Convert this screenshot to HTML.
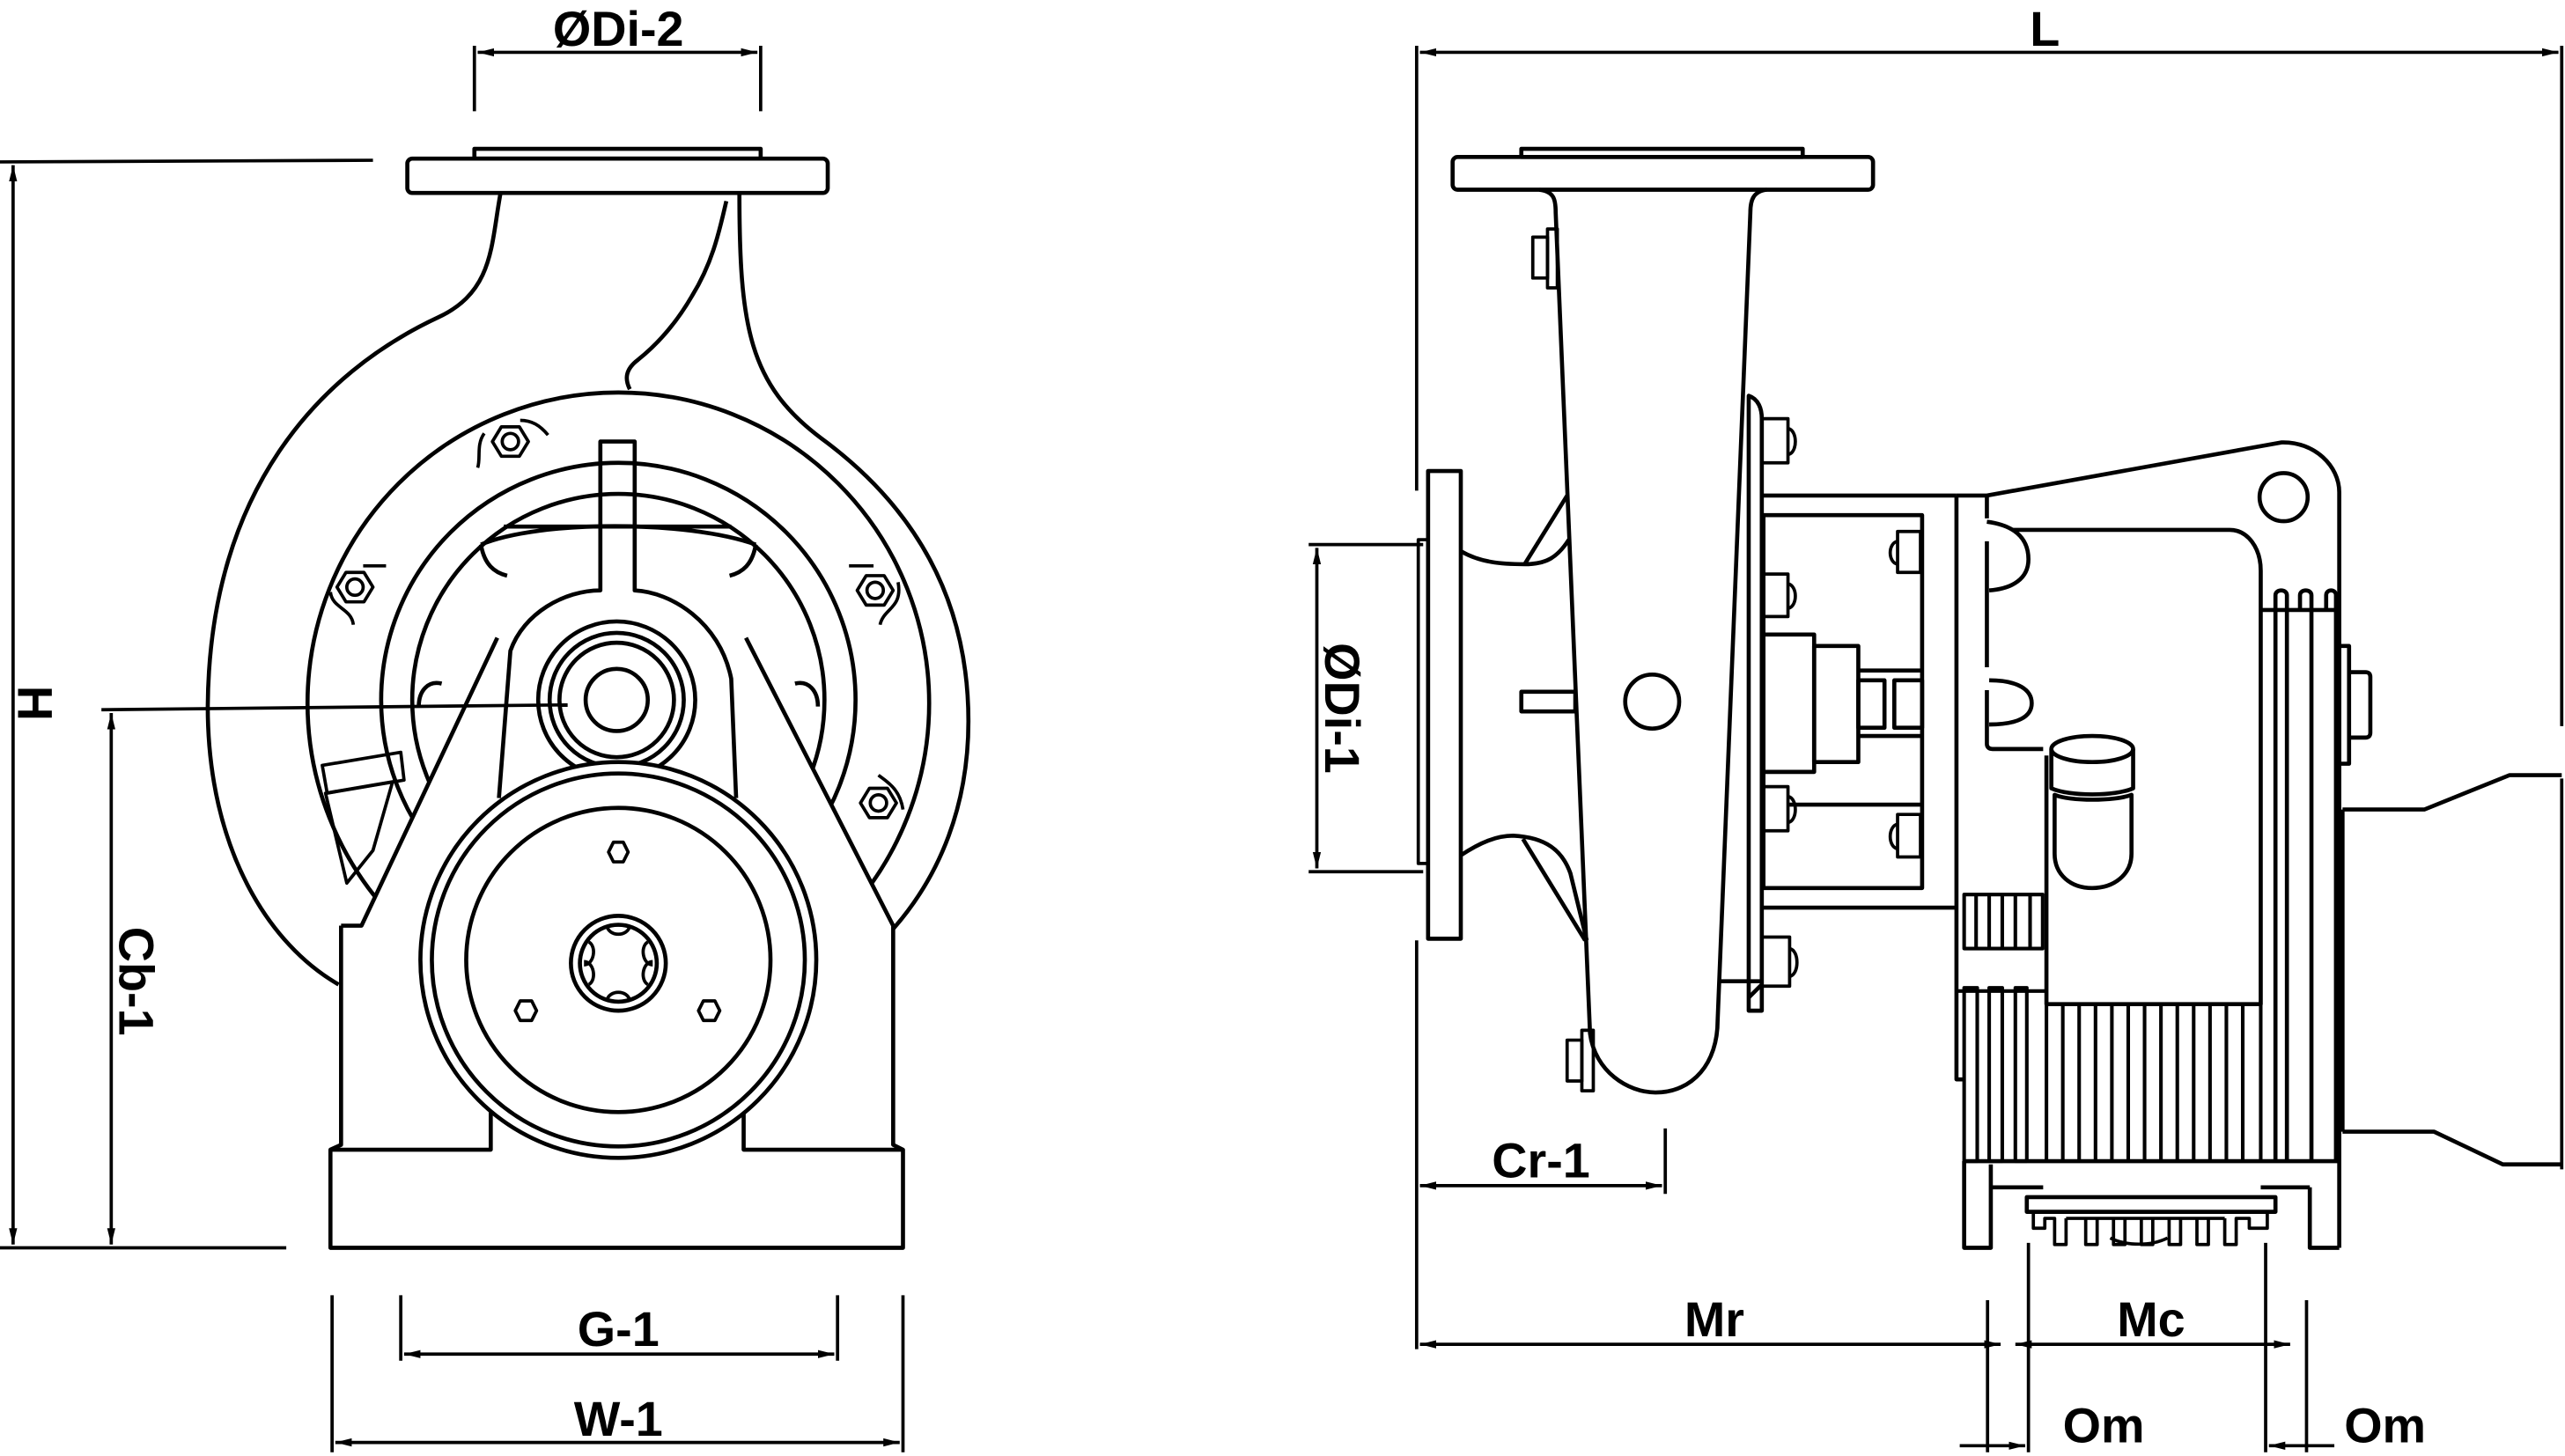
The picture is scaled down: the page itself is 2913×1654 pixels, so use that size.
<!DOCTYPE html>
<html><head><meta charset="utf-8"><style>
html,body{margin:0;padding:0;background:#fff;}
svg{display:block;}
text{font-family:"Liberation Sans",sans-serif;font-size:30px;font-weight:bold;fill:#000;}
</style></head><body>
<svg width="2913" height="1654" viewBox="0 0 1568 890.3" preserveAspectRatio="none" xmlns="http://www.w3.org/2000/svg">
<defs>
<marker id="a" viewBox="0 0 10 10" refX="10" refY="5" markerWidth="10" markerHeight="10" orient="auto-start-reverse" markerUnits="userSpaceOnUse"><path d="M0,2.5 L10,5 L0,7.5z" fill="#000"/></marker>
</defs>
<g fill="none" stroke="#000" stroke-width="2.5" stroke-linejoin="round">
<g stroke-width="2">
<line x1="290" y1="28" x2="290" y2="68"/>
<line x1="465" y1="28" x2="465" y2="68"/>
<line x1="292" y1="32" x2="463" y2="32" marker-start="url(#a)" marker-end="url(#a)"/>
<line x1="0" y1="99" x2="228" y2="98"/>
<line x1="0" y1="763" x2="175" y2="763"/>
<line x1="8" y1="101" x2="8" y2="761" marker-start="url(#a)" marker-end="url(#a)"/>
<line x1="203" y1="792" x2="203" y2="888"/>
<line x1="552" y1="792" x2="552" y2="888"/>
<line x1="245" y1="792" x2="245" y2="832"/>
<line x1="512" y1="792" x2="512" y2="832"/>
<line x1="247" y1="828" x2="510" y2="828" marker-start="url(#a)" marker-end="url(#a)"/>
<line x1="205" y1="882" x2="550" y2="882" marker-start="url(#a)" marker-end="url(#a)"/>
</g>
<rect x="249" y="97" width="257" height="21" rx="3"/>
<rect x="290" y="91" width="175" height="6"/>
<path d="M306,118 C300,150 302,178 268,194 C195,228 128,300 127,432 C127,520 165,578 207,602"/>
<path d="M452,118 C452,200 458,235 502,268 C562,312 592,370 592,441 C592,492 575,535 546,568"/>
<path d="M444,123 C440,140 436,160 423,181 C412,200 400,212 390,220 C382,226 382,232 385,238"/>
<circle cx="378" cy="430" r="190"/>
<circle cx="378" cy="428" r="145"/>
<circle cx="378" cy="428" r="126"/>
<path d="M308,322 L447,322"/>
<path d="M294,333 C296,345 302,350 310,352 M462,333 C460,345 454,350 446,352"/>
<path d="M294,333 C330,318 420,318 462,333"/>
<path d="M256,432 C256,422 262,416 270,418 M500,432 C500,422 494,416 486,418"/>
<g stroke-width="2">
<polygon points="301,270 306.5,261 317.5,261 323,270 317.5,279 306.5,279"/><circle cx="312" cy="270" r="5"/>
<path d="M296,265 C291,272 294,280 292,286 M318,257 C325,257 330,260 335,266"/>
<polygon points="206,359 211.5,350 222.5,350 228,359 222.5,368 211.5,368"/><circle cx="217" cy="359" r="5"/>
<path d="M202,362 C203,372 215,372 216,382 M222,346 L236,346"/>
<polygon points="524,361 529.5,352 540.5,352 546,361 540.5,370 529.5,370"/><circle cx="535" cy="361" r="5"/>
<path d="M519,346 L534,346 M549,356 C552,372 540,372 538,382"/>
<polygon points="526,491 531.5,482 542.5,482 548,491 542.5,500 531.5,500"/><circle cx="537" cy="491" r="5"/>
<path d="M537,474 C542,478 550,482 552,495"/>
</g>
<g stroke-width="2">
<polygon points="197,468 245,460 247,477 200,485"/>
<polygon points="199,485 240,478 228,520 212,540"/>
</g>
<path fill="#fff" stroke="none" d="M208.5,566 L221,566 L304,390 L456,390 L546,566 L546,700 L552,703 L552,763 L202,763 L202,703 L208.5,700 Z"/>
<path d="M208.5,566 L221,566 L304,390 M456,390 L546,566 M208.5,566 L208.5,700 L202,703 L202,763 L552,763 L552,703 L546,700 L546,566"/>
<path d="M202,703 L300,703 L300,679 M454.6,679 L454.6,703 L552,703"/>
<path d="M305,488 L312,398 C320,375 345,361 367,361 L367,270 L388,270 L388,361 C410,362 440,380 447,415 L450,488"/>
<line x1="62" y1="434" x2="347" y2="431" stroke-width="2"/>
<line x1="68" y1="436" x2="68" y2="761" stroke-width="2" marker-start="url(#a)" marker-end="url(#a)"/>
<circle cx="377" cy="428" r="48"/>
<circle cx="377" cy="428" r="41"/>
<circle cx="377" cy="428" r="35"/>
<circle cx="377" cy="428" r="19"/>
<circle cx="378" cy="587" r="121" fill="#fff"/>
<circle cx="378" cy="587" r="114"/>
<circle cx="378" cy="587" r="93"/>
<circle cx="378" cy="589" r="29"/>
<circle cx="378" cy="589" r="23.5"/>
<g stroke-width="2">
<path d="M371,566 C372,573 384,573 385,566 M396,576 C391,579 393,590 399,590 M396,602 C391,599 393,588 399,588 M371,612 C372,605 384,605 385,612 M360,602 C365,599 363,588 357,588 M360,576 C365,579 363,590 357,590"/>
<polygon points="372,521 375,515 381,515 384,521 381,527 375,527"/>
<polygon points="315,618 318,612 325,612 328,618 325,624 318,624"/>
<polygon points="427,618 430,612 437,612 440,618 437,624 430,624"/>
</g>

<g stroke-width="2">
<line x1="866" y1="28" x2="866" y2="300"/>
<line x1="1566" y1="28" x2="1566" y2="444"/>
<line x1="1566" y1="476" x2="1566" y2="715"/>
<line x1="868" y1="32" x2="1564" y2="32" marker-start="url(#a)" marker-end="url(#a)"/>
<line x1="800" y1="333" x2="870" y2="333"/>
<line x1="800" y1="533" x2="870" y2="533"/>
<line x1="805" y1="335" x2="805" y2="531" marker-start="url(#a)" marker-end="url(#a)"/>
<path d="M873,330 L867,330 L867,528 L873,528"/>
<line x1="866" y1="575" x2="866" y2="825"/>
<line x1="1018" y1="690" x2="1018" y2="730"/>
<line x1="868" y1="725" x2="1016" y2="725" marker-start="url(#a)" marker-end="url(#a)"/>
<line x1="868" y1="822" x2="1223" y2="822" marker-start="url(#a)" marker-end="url(#a)"/>
<line x1="1232" y1="822" x2="1400" y2="822" marker-start="url(#a)" marker-end="url(#a)"/>
<line x1="1215" y1="795" x2="1215" y2="888"/>
<line x1="1240" y1="760" x2="1240" y2="888"/>
<line x1="1385" y1="760" x2="1385" y2="888"/>
<line x1="1410" y1="795" x2="1410" y2="888"/>
<line x1="1198" y1="884" x2="1238" y2="884" marker-end="url(#a)"/>
<line x1="1427" y1="884" x2="1387" y2="884" marker-end="url(#a)"/>
</g>
<rect x="888" y="96" width="257" height="20" rx="3"/>
<rect x="930" y="91" width="172" height="5"/>
<path d="M941,116 C950,117 951,122 951,130 L972,632 C975,655 995,668 1012,668 C1035,668 1050,650 1050,624 L1070,130 C1070,122 1072,117 1080,116"/>
<g stroke-width="2">
<rect x="937" y="145" width="9" height="25"/><rect x="946" y="140" width="6" height="36"/>
<rect x="958" y="636" width="9" height="25"/><rect x="967" y="630" width="7" height="37"/>
</g>
<ellipse cx="1010" cy="429" rx="16.5" ry="16.5"/>
<rect x="930" y="423" width="33" height="12"/>
<rect x="873" y="288" width="20" height="286"/>
<path d="M893,337 C905,344 918,345 932,345 C945,345 952,341 959,330"/>
<path d="M932,345 L958,303"/>
<path d="M893,523 C905,515 915,511 925,511 C945,512 955,520 960,534 L970,575"/>
<path d="M931,513 L969,575"/>
<path d="M1069,242 C1075,244 1077,250 1077,256 L1077,618 L1069,618 Z"/>
<path d="M1069,610 L1077,602"/>
<path d="M1077,303 L1196,303 M1077,555 L1196,555"/>
<rect x="1078" y="315" width="97" height="228"/>
<rect x="1078" y="388" width="31" height="84"/>
<rect x="1109" y="395" width="27" height="71"/>
<path d="M1136,410 L1175,410 M1136,450 L1175,450"/>
<rect x="1136" y="416" width="16" height="29"/>
<rect x="1158" y="416" width="17" height="29"/>
<path d="M1077,600 L1050,600 M1093,492 L1175,492"/>
<g stroke-width="2">
<rect x="1077" y="256" width="16" height="27"/><path d="M1093,262 C1099,263 1099,277 1093,278"/>
<rect x="1077" y="351" width="16" height="26"/><path d="M1093,357 C1099,358 1099,371 1093,372"/>
<rect x="1077" y="481" width="16" height="27"/><path d="M1093,487 C1099,488 1099,502 1093,503"/>
<rect x="1077" y="573" width="17" height="30"/><path d="M1094,580 C1100,581 1100,596 1094,597"/>
<rect x="1160" y="325" width="14" height="25"/><path d="M1160,331 C1154,332 1154,344 1160,345"/>
<rect x="1160" y="498" width="14" height="26"/><path d="M1160,504 C1154,505 1154,518 1160,519"/>
</g>
<path d="M1196,303 L1214.6,303 L1394.8,270.5 C1415,270 1430,285 1430,301 L1430,763"/>
<ellipse cx="1396" cy="304" rx="14.7" ry="14.7"/>
<path d="M1196,303 L1196,660 L1201,660"/>
<path d="M1214.6,303 L1214.6,317 M1214.6,331 L1214.6,408 M1214.6,422 L1214.6,455 C1214.6,457 1216,458 1218,458 L1249,458"/>
<path d="M1214.6,319 C1230,321 1240,328 1240,342 C1240,354 1230,360 1216,361"/>
<path d="M1216,416 C1234,416 1242,422 1242,430 C1242,438 1234,443 1216,443"/>
<path d="M1230,324 L1363,324 C1374,324 1382,335 1382,349 L1382,614 L1251,614 L1251,462"/>
<path d="M1382,373 L1430,373"/>
<path d="M1391,373 L1391,364 C1391,360 1398,360 1398,364 L1398,710 M1406,373 L1406,364 C1406,360 1413,360 1413,364 L1413,710 M1422,373 L1422,364 C1422,360 1428,360 1428,364 L1428,710 M1391,373 L1391,710"/>
<rect x="1430" y="395" width="6" height="72"/>
<path d="M1436,411 L1446,411 C1448,411 1449,412 1449,414 L1449,448 C1449,450 1448,451 1446,451 L1436,451"/>
<ellipse cx="1279" cy="458" rx="25" ry="8"/>
<path d="M1254,458 L1254,482 C1265,487 1293,487 1304,482 L1304,458"/>
<path d="M1256,486 C1265,490 1293,490 1303,486 L1303,522 C1303,535 1292,543 1279,543 C1266,543 1256,535 1256,522 Z"/>
<g stroke-width="2.2">
<rect x="1200.7" y="547" width="48" height="33"/>
<path d="M1208,547 L1208,580 M1216,547 L1216,580 M1224,547 L1224,580 M1232,547 L1232,580 M1241,547 L1241,580"/>
<path d="M1196,606 L1251,606"/>
<rect x="1200.7" y="604" width="8" height="106"/>
<rect x="1216" y="604" width="8" height="106"/>
<rect x="1232" y="604" width="7" height="106"/>
<path d="M1251,614 L1251,710 M1261,614 L1261,710 M1271,614 L1271,710 M1281,614 L1281,710 M1291,614 L1291,710 M1301,614 L1301,710 M1311,614 L1311,710 M1321,614 L1321,710 M1331,614 L1331,710 M1341,614 L1341,710 M1351,614 L1351,710 M1361,614 L1361,710 M1371,614 L1371,710 M1382,614 L1382,710"/>
</g>
<path d="M1200.7,710 L1430,710"/>
<path d="M1200.7,710 L1200.7,763 L1217,763 L1217,712"/>
<path d="M1412,726 L1412,763 L1430,763"/>
<path d="M1218,726 L1249,726 M1382,726 L1412,726"/>
<rect x="1239" y="732" width="152" height="9"/>
<g stroke-width="2">
<path d="M1243,741 L1243,751 L1250,751 L1250,745 L1256,745 L1256,761 L1263,761 L1263,745 M1275,745 L1275,761 L1282,761 L1282,745 M1292,745 L1292,761 L1299,761 L1299,745 M1309,745 L1309,761 L1316,761 L1316,745 M1326,745 L1326,761 L1333,761 L1333,745 M1343,745 L1343,761 L1350,761 L1350,745 M1360,745 L1360,761 L1367,761 L1367,745 L1375,745 L1375,751 L1386,751 L1386,741"/>
<path d="M1263,745 L1360,745 M1290,757 C1300,762 1315,762 1325,757"/>
</g>
<path d="M1432,495 L1482,495 L1534,474 L1566,474 M1432,692 L1488,692 L1530,712 L1566,712"/>
<path d="M1432,495 L1432,692"/>
</g>
<text x="378" y="28" text-anchor="middle">ØDi-2</text>
<text x="378" y="823" text-anchor="middle">G-1</text>
<text x="378" y="878" text-anchor="middle">W-1</text>
<text transform="translate(11,430) rotate(90)" text-anchor="middle">H</text>
<text transform="translate(73,600) rotate(90)" text-anchor="middle">Cb-1</text>
<text x="1250" y="28" text-anchor="middle">L</text>
<text transform="translate(810,433) rotate(90)" text-anchor="middle">ØDi-1</text>
<text x="942" y="720" text-anchor="middle">Cr-1</text>
<text x="1048" y="817" text-anchor="middle">Mr</text>
<text x="1315" y="817" text-anchor="middle">Mc</text>
<text x="1286" y="882" text-anchor="middle">Om</text>
<text x="1458" y="882" text-anchor="middle">Om</text>
</svg>
</body></html>
